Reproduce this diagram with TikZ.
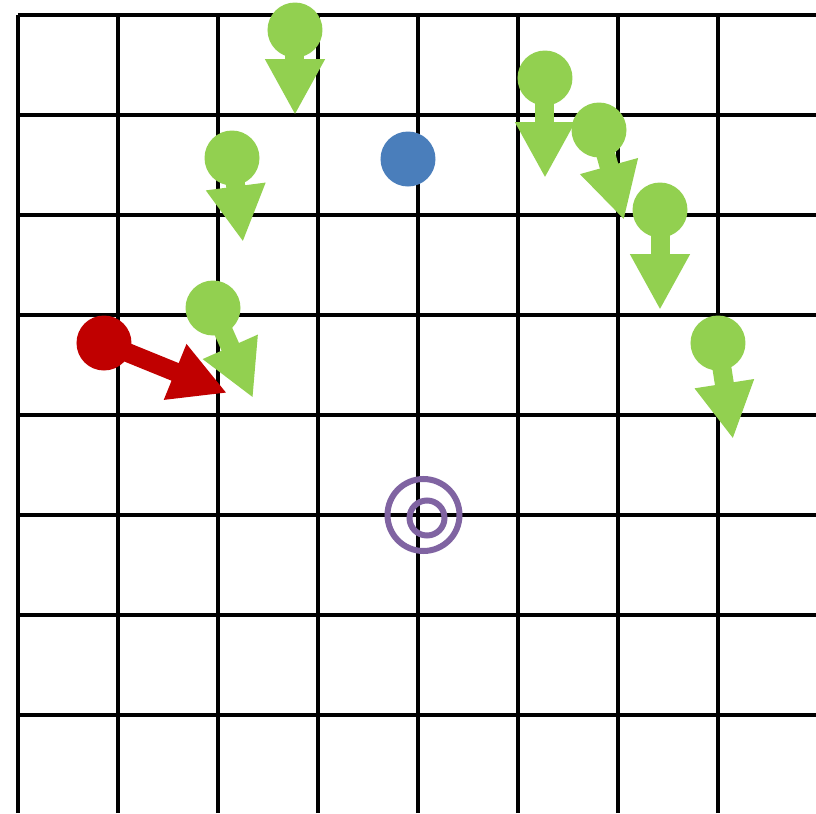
\documentclass[tikz,border=0pt]{standalone}
\usetikzlibrary{arrows.meta}
\definecolor{agentgreen}{HTML}{92D050}
\definecolor{agentred}{HTML}{C00000}
\definecolor{agentblue}{HTML}{4A7EBB}
\definecolor{goalpurple}{HTML}{8064A2}

\tikzset{
  agent/.style={circle, fill=#1, minimum size=0.55cm, inner sep=0pt},
  heading/.style={#1, line width=0.19cm, -{Triangle[length=0.56cm, width=0.56cm]}},
  ring/.style={circle, draw=goalpurple, line width=0.06cm, inner sep=0pt, minimum size=#1},
}

\begin{document}
\begin{tikzpicture}
\useasboundingbox (0,0) rectangle (8.16,8.13);

% Grid
\foreach \i in {0,...,7} {
  \draw[line width=0.9pt] (0.18+\i,0) -- (0.18+\i,7.98);
  \draw[line width=0.9pt] (0.18,0.98+\i) -- (8.16,0.98+\i);
}

% Agents
\node[agent=agentgreen] (g1) at (2.95,7.83) {};
\node[agent=agentgreen] (g2) at (2.32,6.55) {};
\node[agent=agentgreen] (g3) at (2.13,5.05) {};
\node[agent=agentgreen] (g4) at (5.45,7.35) {};
\node[agent=agentgreen] (g5) at (5.99,6.83) {};
\node[agent=agentgreen] (g6) at (6.60,6.03) {};
\node[agent=agentgreen] (g7) at (7.18,4.70) {};
\node[agent=agentred] (leader) at (1.04,4.70) {};
\node[agent=agentblue] (idle) at (4.08,6.54) {};

% Headings
\coordinate (t1) at (2.95,6.98);
\coordinate (t2) at (2.43,5.71);
\coordinate (t3) at (2.53,4.15);
\coordinate (t4) at (5.45,6.35);
\coordinate (t5) at (6.24,5.93);
\coordinate (t6) at (6.60,5.03);
\coordinate (t7) at (7.33,3.74);
\coordinate (tl) at (2.27,4.20);
\foreach \n in {1,...,7}
  \draw[heading=agentgreen] (g\n.center) -- (t\n);
\draw[heading=agentred] (leader.center) -- (tl);

% Goal
\node[ring=0.72cm] (goal) at (4.235,2.98) {};
\node[ring=0.35cm] (goalin) at (4.27,2.95) {};

\end{tikzpicture}
\end{document}
